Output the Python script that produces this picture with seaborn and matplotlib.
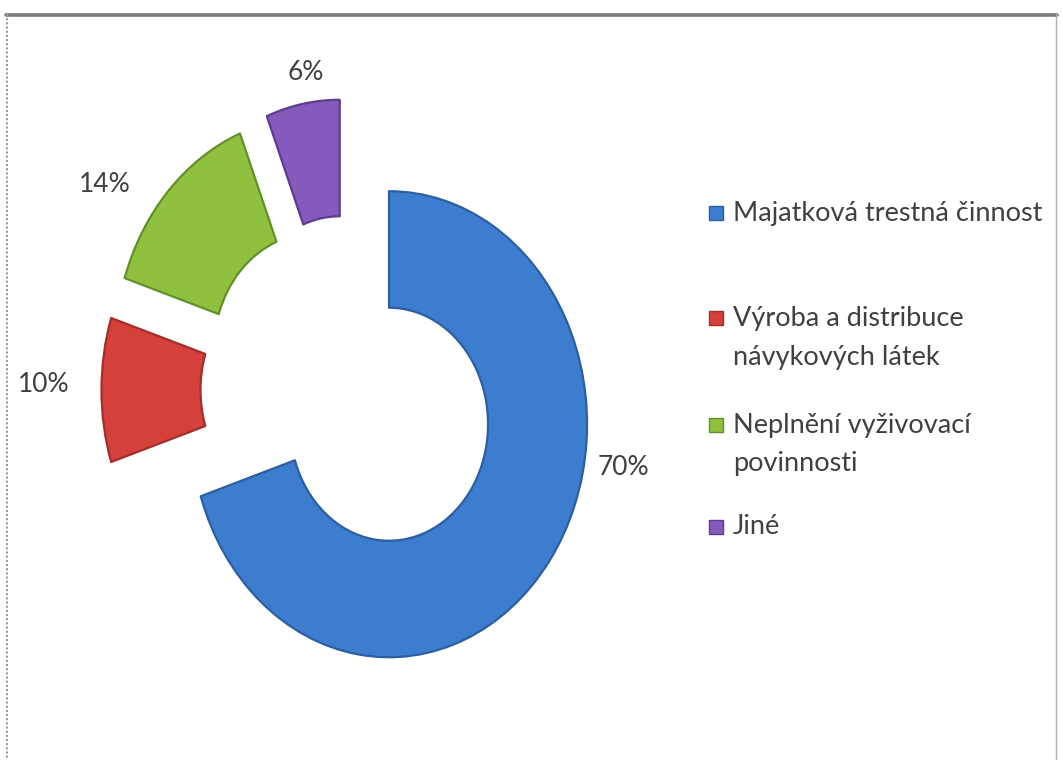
import matplotlib
matplotlib.use("Agg")
import matplotlib.pyplot as plt
import seaborn as sns
import numpy as np
from matplotlib.patches import Rectangle
from matplotlib.lines import Line2D

# ---- data ----
categories = ["Majatková trestná činnost",
              "Výroba a distribuce\nnávykových látek",
              "Neplnění vyživovací\npovinnosti",
              "Jiné"]
values = [70, 10, 14, 6]
colors = ["#3d7dd0", "#d6403b", "#8fc13f", "#8659bd"]
edge_colors = ["#2c5f9f", "#a32e2a", "#62902a", "#5e3d8f"]

# ---- style ----
sns.set_theme(style="white")
plt.rcParams["font.family"] = ["Lato", "DejaVu Sans"]
text_color = "#404040"

W, H = 1063, 760
fig = plt.figure(figsize=(W / 100, H / 100), dpi=100)
fig.patch.set_facecolor("white")
ax = fig.add_axes([0, 0, 1, 1])

# pie geometry in pixels (center, radii)
cx, cy, rx, ry = 349, 390, 198, 233

wedges, texts, autotexts = ax.pie(
    values, explode=[0.25] * len(values), startangle=90, counterclock=False,
    colors=colors, radius=1.0, autopct=lambda p: f"{p:.0f}%",
    wedgeprops=dict(width=0.5, linewidth=1.6),
    textprops=dict(color=text_color, fontsize=19),
)
for w, ec in zip(wedges, edge_colors):
    w.set_edgecolor(ec)
    w.set_joinstyle("round")

ax.set_aspect("auto")
ax.set_xlim(-cx / rx, (W - cx) / rx)
ax.set_ylim(-(H - cy) / ry, cy / ry)
ax.axis("off")

# percentage label placement relative to each exploded wedge center
label_r = [1.20, 1.29, 1.27, 1.13]
label_ang = [-8.8, 179, 146, 98.6]
for w, t, r, a in zip(wedges, autotexts, label_r, label_ang):
    x0, y0 = w.center
    t.set_position((x0 + r * np.cos(np.radians(a)), y0 + r * np.sin(np.radians(a))))
    t.set_ha("center")
    t.set_va("center")

# ---- legend (manual, to match uneven spacing) ----
leg_first_y = [213, 318, 425, 527]
line_gap = 39
for cat, col, ec, y in zip(categories, colors, edge_colors, leg_first_y):
    fig.patches.append(Rectangle(((709) / W, 1 - (y + 7) / H), 14 / W, 14 / H,
                                 transform=fig.transFigure, facecolor=col,
                                 edgecolor=ec, linewidth=1.0))
    for i, line in enumerate(cat.split("\n")):
        fig.text(733 / W, 1 - (y + i * line_gap) / H, line, fontsize=19.5,
                 color=text_color, ha="left", va="center")

# ---- frame border ----
fig.add_artist(Line2D([6 / W, 1057 / W], [1 - 14.5 / H, 1 - 14.5 / H],
                      transform=fig.transFigure, color="#7a7a7a", linewidth=2.6))
fig.add_artist(Line2D([7 / W, 7 / W], [1 - 14 / H, 0],
                      transform=fig.transFigure, color="#9a9a9a", linewidth=1.5,
                      linestyle=(0, (1, 1))))
fig.add_artist(Line2D([1056 / W, 1056 / W], [1 - 14 / H, 0],
                      transform=fig.transFigure, color="#b0b0b0", linewidth=1.0))

fig.savefig("out.png", dpi=100, facecolor="white")
